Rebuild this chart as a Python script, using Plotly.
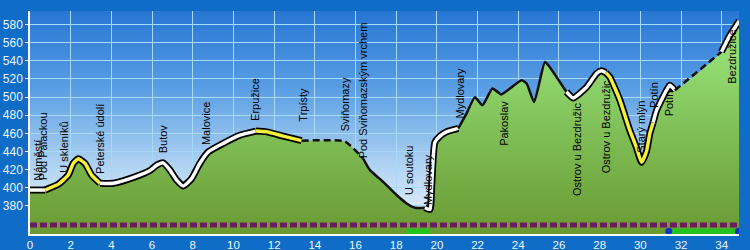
import base64
import plotly.graph_objects as go

# ---------------- data ----------------
DIST_KM = [0.0, 0.75, 1.0, 1.4, 1.88, 2.13, 2.37, 2.7, 3.03, 3.44,
           4.1, 5.16, 5.9, 6.23, 6.55, 6.88, 7.21, 7.53, 7.94, 8.35,
           8.76, 9.5, 10.32, 11.1, 11.63, 12.45, 13.35, 15.48, 16.38, 16.71,
           17.36, 18.02, 18.5, 18.92, 19.41, 19.66, 19.74, 19.9, 20.15, 20.47,
           21.05, 21.46, 21.87, 22.24, 22.73, 23.17, 24.16, 24.41, 24.78, 25.31,
           25.55, 26.37, 26.7, 27.36, 27.85, 28.09, 28.3, 28.5, 28.99, 29.48,
           29.8, 30.06, 30.3, 30.47, 30.63, 30.8, 31.29, 31.45, 31.7, 33.99,
           34.4, 34.86]
ELEV_M = [397.5, 397.5, 400, 404, 414, 427, 432, 427, 414, 405,
          405, 412, 419, 425, 427.5, 419.5, 408.5, 402, 410, 427,
          439.5, 449, 458, 462.5, 461.7, 457, 452, 451, 432, 419.5,
          406.6, 392, 383, 378, 378, 376, 401, 450, 457, 461.7,
          465.5, 482, 500, 491, 509.5, 503, 518.6, 515, 494.7, 538.8,
          533, 505.7, 499, 511, 526, 529, 527, 522, 497, 463.5,
          445, 428, 440, 460, 472, 485.6, 507.6, 513, 507.6, 550,
          568, 584]

# segment start indices (into DIST_KM) and their line style
SEG_START = [0, 1, 9, 23, 26, 28, 34, 40, 51, 56, 64, 68, 69]
SEG_STYLE = ["white", "yellow", "white", "yellow", "dash", "solid", "white",
             "solid", "white", "yellow", "white", "dash", "white"]

LABEL_NAMES = ["Náměstí", "Pod Palackou", "U skleníků", "Peterské údolí", "Butov",
               "Malovice", "Erpužice", "Trpísty", "Sviňomazy", "Pod Sviňomazským vrchem",
               "U soutoku", "Mydlovary", "Mydlovary", "Pakoslav", "Ostrov u Bezdružic",
               "Ostrov u Bezdružic", "Starý mlýn", "Potín", "Potín", "Bezdružice"]
LABEL_KM = [0.39, 0.64, 1.63, 3.44, 6.52, 8.68, 11.06, 13.43, 15.48, 16.38,
            18.64, 19.6, 21.13, 23.26, 26.86, 28.3, 30.06, 30.66, 31.42, 34.53]
LABEL_ELEV = [406, 406, 414, 413, 436, 445, 471, 471, 460, 430.5,
              390, 379, 474.6, 443.7, 388.7, 414, 436, 485.6, 476.8, 513]

PURPLE_LINE_ELEV = 359
PURPLE_LINE_KM = [0.0, 34.85]
GREEN_BARS_KM = [[18.51, 19.66], [31.45, 34.8]]
GREEN_BAR_ELEV = 352
BLUE_DOTS_KM = [31.4, 34.82]

X_TICKS = list(range(0, 35, 2))
Y_TICKS = list(range(380, 581, 20))
X_RANGE = [0, 34.85]
Y_RANGE = [349, 595]

FONT = "Liberation Sans, Arial, sans-serif"

# ---------------- figure ----------------
fig = go.Figure()

# terrain fill
fig.add_trace(go.Scatter(
    x=DIST_KM, y=ELEV_M, mode="lines", fill="tozeroy",
    line=dict(width=0, shape="spline", smoothing=0.5),
    fillgradient=dict(type="vertical", start=349, stop=545,
                      colorscale=[[0, "#6A9A32"], [0.5, "#7DBA52"], [1, "#94DC74"]]),
    hoverinfo="skip", showlegend=False))

# purple dotted line
fig.add_trace(go.Scatter(
    x=PURPLE_LINE_KM, y=[PURPLE_LINE_ELEV] * 2, mode="lines",
    line=dict(color="#6E1C62", width=5, dash="7px,3px"),
    hoverinfo="skip", showlegend=False))

# green bars
for a, b in GREEN_BARS_KM:
    fig.add_trace(go.Scatter(
        x=[a, b], y=[GREEN_BAR_ELEV] * 2, mode="lines",
        line=dict(color="#22C51E", width=5),
        hoverinfo="skip", showlegend=False))
fig.add_trace(go.Scatter(
    x=BLUE_DOTS_KM, y=[GREEN_BAR_ELEV] * 2, mode="markers",
    marker=dict(color="#1234C0", size=7),
    hoverinfo="skip", showlegend=False))

# profile line segments
ends = SEG_START[1:] + [len(DIST_KM) - 1]
for s, e, style in zip(SEG_START, ends, SEG_STYLE):
    xs = DIST_KM[s:e + 1]
    ys = ELEV_M[s:e + 1]
    if style in ("white", "yellow"):
        fig.add_trace(go.Scatter(x=xs, y=ys, mode="lines",
                                 line=dict(color="black", width=7, shape="spline", smoothing=0.5),
                                 hoverinfo="skip", showlegend=False))
        fig.add_trace(go.Scatter(x=xs, y=ys, mode="lines",
                                 line=dict(color="white" if style == "white" else "#F4EE3C",
                                           width=3.5, shape="spline", smoothing=0.5),
                                 hoverinfo="skip", showlegend=False))
    else:
        fig.add_trace(go.Scatter(x=xs, y=ys, mode="lines",
                                 line=dict(color="#111111", width=2.5,
                                           dash="7px,4px" if style == "dash" else "solid",
                                           shape="spline", smoothing=0.5),
                                 hoverinfo="skip", showlegend=False))

# labels
for name, km, el in zip(LABEL_NAMES, LABEL_KM, LABEL_ELEV):
    fig.add_annotation(x=km, y=el, text=name, textangle=-90, showarrow=False,
                       xanchor="center", yanchor="bottom",
                       font=dict(family=FONT, size=11, color="black"))

# sky gradient as background image
svg = ('<svg xmlns="http://www.w3.org/2000/svg" width="10" height="100" viewBox="0 0 10 100" '
       'preserveAspectRatio="none"><defs><linearGradient id="g" x1="0" y1="0" x2="0" y2="1">'
       '<stop offset="0" stop-color="#2776D4"/>'
       '<stop offset="0.35" stop-color="#5A9FE4"/>'
       '<stop offset="0.7" stop-color="#B2D4F3"/>'
       '<stop offset="1" stop-color="#F2F7FD"/>'
       '</linearGradient></defs><rect width="10" height="100" fill="url(#g)"/></svg>')
src = "data:image/svg+xml;base64," + base64.b64encode(svg.encode()).decode()
fig.add_layout_image(dict(source=src, xref="paper", yref="paper", x=0, y=1,
                          sizex=1, sizey=1, xanchor="left", yanchor="top",
                          sizing="stretch", layer="below"))

axis_common = dict(showgrid=True, gridcolor="#A6DAF8", gridwidth=1,
                   showline=True, linecolor="white", linewidth=1.5,
                   zeroline=False, fixedrange=True, automargin=False)

fig.update_xaxes(range=X_RANGE, tickvals=X_TICKS, ticks="", ticklabelstandoff=-1,
                 tickfont=dict(family=FONT, size=11.5, color="#EEF6FF"),
                 **axis_common)
fig.update_yaxes(range=Y_RANGE, tickvals=Y_TICKS, ticks="outside", ticklen=3,
                 tickcolor="white",
                 tickfont=dict(family=FONT, size=12, color="#EEF6FF"),
                 **axis_common)

fig.update_layout(
    width=750, height=250,
    margin=dict(l=30, r=11, t=11, b=16, autoexpand=False),
    paper_bgcolor="#0F6DC8",
    plot_bgcolor="rgba(0,0,0,0)",
    showlegend=False,
)

fig.write_html("out.html")
